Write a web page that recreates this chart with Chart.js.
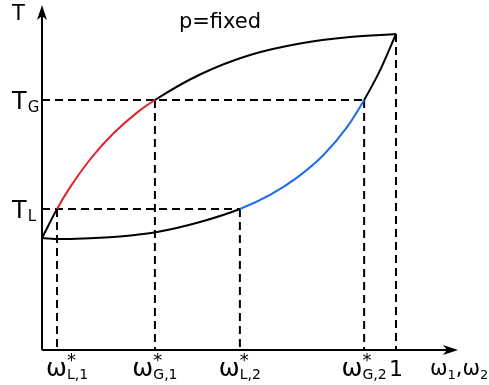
<!DOCTYPE html>
<html>
<head>
<meta charset="utf-8">
<script src="https://cdn.jsdelivr.net/npm/chart.js@4"></script>
<style>
  body { margin: 0; background: #fff; }
  canvas { display: block; }
</style>
</head>
<body>
<canvas id="c" width="489" height="385"></canvas>
<script>
// dew curve (upper) and bubble curve (lower), mass fraction vs temperature
const dewW = [0, 0.0424, 0.0791, 0.1356, 0.2006, 0.2684, 0.319, 0.4463, 0.5876, 0.7288, 0.8701, 1];
const dewT = [112, 141, 162.6, 190.5, 216.2, 237.4, 250, 275.5, 295, 306.5, 313, 316];
const bubW = [0, 0.0508, 0.1158, 0.2203, 0.3249, 0.4463, 0.559, 0.6441, 0.7203, 0.7938, 0.8616, 0.910, 0.9548, 1];
const bubT = [112, 111, 111.5, 113.5, 118, 128, 141, 155.1, 172.4, 194.5, 222.8, 250, 279.6, 316];

const xTicks = [0.0424, 0.319, 0.559, 0.910, 1];
const xTickBase = ['ω', 'ω', 'ω', 'ω', '1'];
const xTickSup = ['*', '*', '*', '*', ''];
const xTickSub = ['L,1', 'G,1', 'L,2', 'G,2', ''];

const yTicks = [141, 250];           // T_L, T_G
const yTickSub = ['L', 'G'];
const T_L = yTicks[0], T_G = yTicks[1];
const T_END = dewT[dewT.length - 1];

const RED = 'rgb(230,32,44)';
const BLUE = 'rgb(28,108,232)';

function pts(xs, ys) { return xs.map((x, i) => ({x: x, y: ys[i]})); }

function curve(xs, ys, from, to, col) {
  return {
    data: pts(xs, ys),
    showLine: true, borderColor: '#000', borderWidth: 2, pointRadius: 0,
    cubicInterpolationMode: 'monotone', clip: false, order: 1,
    segment: {
      borderColor: ctx => (ctx.p0.parsed.x >= from - 1e-6 && ctx.p1.parsed.x <= to + 1e-6) ? col : undefined
    }
  };
}

function dashed(a, b) {
  return {
    data: [a, b], showLine: true, borderColor: '#000', borderWidth: 2,
    borderDash: [8, 5], pointRadius: 0, clip: false, order: 2
  };
}

const guides = [
  dashed({x: 0, y: T_G}, {x: xTicks[3], y: T_G}),
  dashed({x: 0, y: T_L}, {x: xTicks[2], y: T_L}),
  dashed({x: xTicks[0], y: T_L}, {x: xTicks[0], y: 0}),
  dashed({x: xTicks[1], y: T_G}, {x: xTicks[1], y: 0}),
  dashed({x: xTicks[2], y: T_L}, {x: xTicks[2], y: 0}),
  dashed({x: xTicks[3], y: T_G}, {x: xTicks[3], y: 0}),
  dashed({x: xTicks[4], y: T_END}, {x: xTicks[4], y: 0})
];

const FONT = '"DejaVu Sans", sans-serif';

const decor = {
  id: 'decor',
  afterDatasetsDraw(chart) {
    const c = chart.ctx, a = chart.chartArea;
    const xs = chart.scales.x, ys = chart.scales.y;
    const x0 = a.left, y0 = a.bottom;
    c.save();
    c.strokeStyle = '#000'; c.fillStyle = '#000'; c.lineWidth = 2;
    // axes
    c.beginPath();
    c.moveTo(x0, y0); c.lineTo(a.right - 6, y0);
    c.moveTo(x0, y0); c.lineTo(x0, a.top + 6);
    c.stroke();
    c.beginPath();
    c.moveTo(a.right, y0); c.lineTo(a.right - 15, y0 - 5); c.lineTo(a.right - 11, y0); c.lineTo(a.right - 15, y0 + 5);
    c.closePath(); c.fill();
    c.beginPath();
    c.moveTo(x0, a.top); c.lineTo(x0 - 5, a.top + 15); c.lineTo(x0, a.top + 11); c.lineTo(x0 + 5, a.top + 15);
    c.closePath(); c.fill();

    c.textBaseline = 'alphabetic';
    c.textAlign = 'left';
    // x tick labels
    xTicks.forEach((v, i) => {
      const base = xTickBase[i];
      const bf = (base === '1' ? '22px ' : '25px ') + FONT;
      c.font = bf;
      const bw = c.measureText(base).width;
      c.font = '14px ' + FONT;
      const sw = c.measureText(xTickSub[i]).width;
      const w = bw + sw;
      let left = xs.getPixelForValue(v) - w / 2;
      if (left < x0 + 4) left = x0 + 4;
      c.font = bf;
      c.fillText(base, left, 376);
      if (xTickSup[i]) {
        c.font = '18px ' + FONT;
        c.fillText(xTickSup[i], left + bw, 366);
      }
      if (xTickSub[i]) {
        c.font = '14px ' + FONT;
        c.fillText(xTickSub[i], left + bw, 379);
      }
    });
    // x axis name: ω1,ω2
    let px = 430;
    const parts = [['ω', 0], ['1', 1], [',', 0], ['ω', 0], ['2', 1]];
    parts.forEach(p => {
      c.font = (p[1] ? '13px ' : '21px ') + FONT;
      c.fillText(p[0], px, p[1] ? 379 : 375);
      px += c.measureText(p[0]).width;
    });
    // y tick labels
    yTicks.forEach((v, i) => {
      const py = ys.getPixelForValue(v);
      c.font = '24px ' + FONT;
      c.fillText('T', 12, py + 9);
      const tw = c.measureText('T').width;
      c.font = '15px ' + FONT;
      c.fillText(yTickSub[i], 12 + tw + 1, py + 12);
    });
    // y axis name and title
    c.font = '21px ' + FONT;
    c.fillText('T', 12, 20);
    c.textAlign = 'center';
    c.fillText('p=fixed', 220, 28);
    c.restore();
  }
};

new Chart(document.getElementById('c'), {
  type: 'scatter',
  data: {
    datasets: [
      curve(dewW, dewT, xTicks[0], xTicks[1], RED),
      curve(bubW, bubT, xTicks[2], xTicks[3], BLUE)
    ].concat(guides)
  },
  options: {
    responsive: false,
    animation: false,
    devicePixelRatio: 1,
    layout: { padding: { left: 42, right: 31, top: 5, bottom: 35 } },
    scales: {
      x: { type: 'linear', min: 0, max: (458 - 42) / 354, display: false },
      y: { type: 'linear', min: 0, max: 345, display: false }
    },
    plugins: { legend: { display: false }, tooltip: { enabled: false } }
  },
  plugins: [decor]
});
</script>
</body>
</html>
